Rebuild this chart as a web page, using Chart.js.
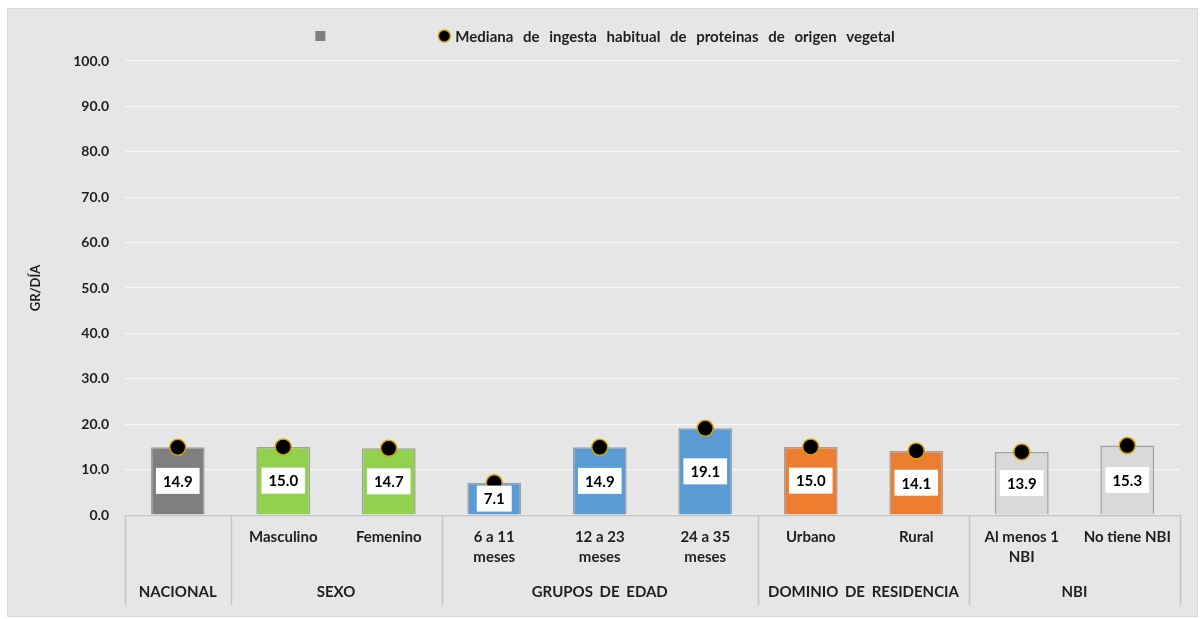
<!DOCTYPE html>
<html>
<head>
<meta charset="utf-8">
<script src="https://cdn.jsdelivr.net/npm/chart.js@4.4.1/dist/chart.umd.min.js"></script>
<style>
  html, body { margin: 0; padding: 0; background: #ffffff; }
  #wrap { width: 1202px; height: 619px; }
</style>
</head>
<body>
<div id="wrap"><canvas id="c" width="1202" height="619"></canvas></div>
<script>
// ---- data ----
const categoryLabels = ['', 'Masculino', 'Femenino', ['6 a 11', 'meses'], ['12 a 23', 'meses'], ['24 a 35', 'meses'], 'Urbano', 'Rural', ['Al menos 1', 'NBI'], 'No tiene NBI'];
const groupLabels = ['NACIONAL', 'SEXO', 'GRUPOS DE EDAD', 'DOMINIO DE RESIDENCIA', 'NBI'];
const groupSizes = [1, 2, 3, 2, 2];
const barValues = [14.9, 15.0, 14.7, 7.1, 14.9, 19.1, 15.0, 14.1, 13.9, 15.3];
const medianValues = [14.9, 15.0, 14.7, 7.1, 14.9, 19.1, 15.0, 14.1, 13.9, 15.3];
const barColors = ['#7f7f7f', '#92d050', '#92d050', '#5b9bd5', '#5b9bd5', '#5b9bd5', '#ed7d31', '#ed7d31', '#d9d9d9', '#d9d9d9'];
const yTicks = [0, 10, 20, 30, 40, 50, 60, 70, 80, 90, 100];
const seriesName = 'Mediana de ingesta habitual de proteinas de origen vegetal';
const yTitle = 'GR/DÍA';

const FONT = 'Lato, "Open Sans", sans-serif';
const TEXT = '#1f1f1f';

const bgPlugin = {
  id: 'bg',
  beforeDraw(chart) {
    const ctx = chart.ctx;
    ctx.save();
    ctx.fillStyle = '#ffffff';
    ctx.fillRect(0, 0, chart.width, chart.height);
    ctx.fillStyle = '#e6e6e6';
    ctx.fillRect(7, 8, chart.width - 11, chart.height - 10);
    ctx.strokeStyle = '#d9d9d9';
    ctx.lineWidth = 1;
    ctx.strokeRect(7.5, 8.5, chart.width - 12, chart.height - 11);
    ctx.restore();
  }
};

const groupPlugin = {
  id: 'groups',
  afterDraw(chart) {
    const x = chart.scales.x;
    const ctx = chart.ctx;
    const n = categoryLabels.length;
    const half = (x.getPixelForValue(1) - x.getPixelForValue(0)) / 2;
    const bottom = chart.chartArea.bottom;
    ctx.save();
    ctx.strokeStyle = '#c4c4c4';
    ctx.lineWidth = 1.5;
    ctx.beginPath();
    ctx.moveTo(x.getPixelForValue(0) - half, bottom + 0.5);
    ctx.lineTo(x.getPixelForValue(n - 1) + half, bottom + 0.5);
    ctx.stroke();
    let idx = 0;
    const bounds = [x.getPixelForValue(0) - half];
    groupSizes.forEach(s => { idx += s; bounds.push(x.getPixelForValue(idx - 1) + half); });
    bounds.forEach(b => {
      ctx.beginPath();
      ctx.moveTo(Math.round(b) + 0.5, bottom);
      ctx.lineTo(Math.round(b) + 0.5, bottom + 90);
      ctx.stroke();
    });
    ctx.fillStyle = TEXT;
    ctx.font = 'bold 15px ' + FONT;
    if ('wordSpacing' in ctx) ctx.wordSpacing = '3px';
    ctx.textAlign = 'center';
    ctx.textBaseline = 'middle';
    groupLabels.forEach((g, i) => {
      ctx.fillText(g, (bounds[i] + bounds[i + 1]) / 2, bottom + 77);
    });
    ctx.restore();
  }
};

const labelPlugin = {
  id: 'valueLabels',
  afterDatasetsDraw(chart) {
    const meta = chart.getDatasetMeta(0);
    const ctx = chart.ctx;
    ctx.save();
    ctx.font = 'bold 15px ' + FONT;
    ctx.textAlign = 'center';
    ctx.textBaseline = 'middle';
    meta.data.forEach((bar, i) => {
      const { x, y, base } = bar.getProps(['x', 'y', 'base'], true);
      const cy = (y + base) / 2;
      const txt = barValues[i].toFixed(1);
      const w = ctx.measureText(txt).width + 14;
      const h = 26;
      ctx.fillStyle = '#ffffff';
      ctx.fillRect(x - w / 2, cy - h / 2, w, h);
      ctx.fillStyle = '#000000';
      ctx.fillText(txt, x, cy + 1);
    });
    ctx.restore();
  }
};

const legendPlugin = {
  id: 'customLegend',
  afterDraw(chart) {
    const ctx = chart.ctx;
    ctx.save();
    ctx.font = 'bold 15px ' + FONT;
    if ('wordSpacing' in ctx) ctx.wordSpacing = '6px';
    const tw = ctx.measureText(seriesName).width;
    const sq = 10, gap = 113, r = 6, gap2 = 5;
    const total = sq + gap + 2 * r + gap2 + tw;
    let x0 = chart.width / 2 + 4 - total / 2;
    const cy = 36;
    ctx.fillStyle = barColors[0];
    ctx.fillRect(x0, cy - sq / 2, sq, sq);
    const cx = x0 + sq + gap + r;
    ctx.beginPath();
    ctx.arc(cx, cy, r, 0, Math.PI * 2);
    ctx.fillStyle = '#000000';
    ctx.fill();
    ctx.strokeStyle = '#d4a200';
    ctx.lineWidth = 1.5;
    ctx.stroke();
    ctx.fillStyle = TEXT;
    ctx.textAlign = 'left';
    ctx.textBaseline = 'middle';
    ctx.fillText(seriesName, cx + r + gap2, cy + 1);
    ctx.restore();
  }
};

new Chart(document.getElementById('c'), {
  data: {
    labels: categoryLabels,
    datasets: [
      {
        type: 'bar',
        label: '',
        data: barValues,
        backgroundColor: barColors,
        borderColor: '#a0a0a0',
        borderWidth: 1.5,
        barPercentage: 0.51,
        categoryPercentage: 1.0,
        order: 2
      },
      {
        type: 'line',
        label: seriesName,
        data: medianValues,
        showLine: false,
        pointRadius: 8,
        pointHoverRadius: 8,
        pointBackgroundColor: '#000000',
        pointBorderColor: '#d4a200',
        pointBorderWidth: 1.5,
        order: 1
      }
    ]
  },
  options: {
    responsive: false,
    animation: false,
    devicePixelRatio: 1,
    layout: { padding: { top: 61, right: 22, bottom: 14, left: 0 } },
    plugins: {
      legend: { display: false },
      tooltip: { enabled: false }
    },
    scales: {
      x: {
        type: 'category',
        offset: true,
        grid: { display: false, drawTicks: false },
        border: { display: false },
        ticks: {
          color: TEXT,
          font: { family: FONT, size: 15, weight: 'bold', lineHeight: 1.35 },
          padding: 12,
          maxRotation: 0,
          autoSkip: false
        },
        afterFit(scale) { scale.height = 90; }
      },
      y: {
        min: 0,
        max: 100,
        afterBuildTicks(scale) { scale.ticks = yTicks.map(v => ({ value: v })); },
        grid: { color: '#f7f7f7', lineWidth: 1.2, drawTicks: false },
        border: { display: false },
        ticks: {
          color: TEXT,
          font: { family: FONT, size: 14, weight: 'bold' },
          padding: 16,
          callback: v => Number(v).toFixed(1)
        },
        title: {
          display: true,
          text: yTitle,
          color: TEXT,
          font: { family: FONT, size: 13, weight: 'bold' },
          padding: { top: 28, bottom: 0 }
        },
        afterFit(scale) { scale.width = 125; }
      }
    }
  },
  plugins: [bgPlugin, groupPlugin, labelPlugin, legendPlugin]
});
</script>
</body>
</html>
